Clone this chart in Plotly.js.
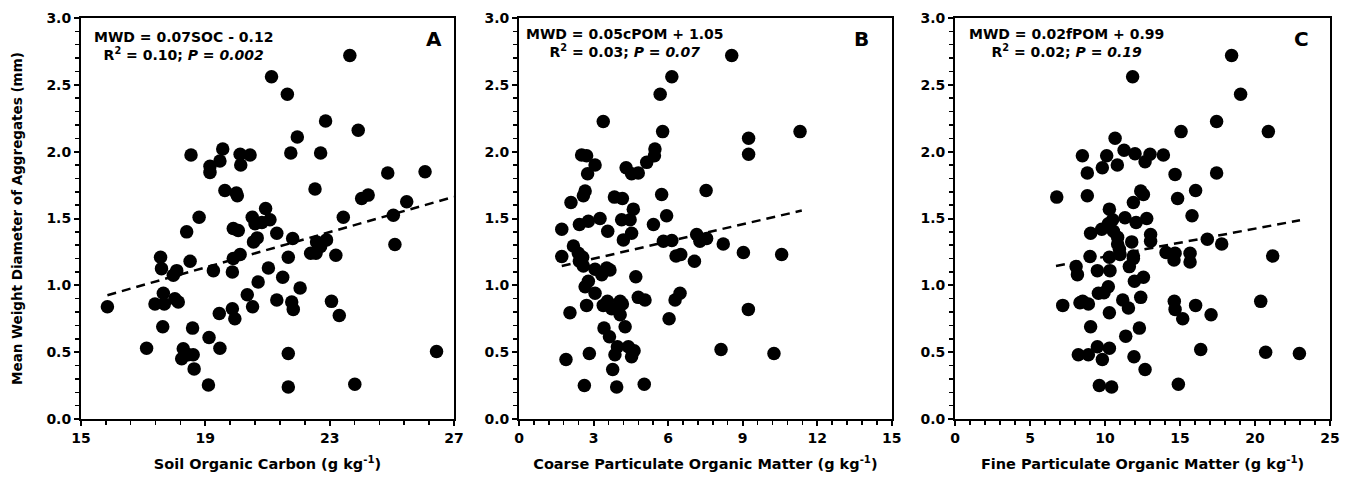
<!DOCTYPE html>
<html>
<head>
<meta charset="utf-8">
<script src="https://cdn.plot.ly/plotly-3.0.1.min.js"></script>
<style>html,body{margin:0;padding:0;background:#fff;}#chart{width:1350px;height:479px;}</style>
</head>
<body>
<div id="chart"></div>
<script>
// Panel A: Soil Organic Carbon vs MWD
const socA = [23.65,21.13,21.64,22.87,23.92,21.96,21.75,22.71,18.54,19.56,19.15,19.15,19.47,20.12,20.44,20.14,19.63,20.0,20.03,22.53,24.87,26.07,24.03,24.24,25.48,25.05,23.44,18.8,20.51,20.94,21.08,20.6,20.82,18.4,19.9,20.06,21.3,20.67,20.55,21.81,22.58,22.71,22.9,22.39,22.56,23.2,25.1,21.67,20.12,19.9,19.87,19.26,18.51,17.56,17.59,18.08,17.97,21.03,20.7,21.49,22.05,20.35,20.52,19.87,19.95,19.45,21.3,21.78,21.83,23.06,23.31,15.85,17.38,17.65,17.68,18.02,18.13,17.63,18.59,17.11,18.29,18.24,18.45,18.61,18.64,19.12,19.47,19.1,21.67,21.67,23.81,26.44];
const mwdA = [2.72,2.56,2.43,2.23,2.16,2.11,1.99,1.99,1.975,2.02,1.89,1.845,1.93,1.98,1.975,1.90,1.71,1.69,1.67,1.72,1.84,1.85,1.65,1.675,1.625,1.525,1.51,1.51,1.51,1.575,1.49,1.46,1.47,1.40,1.425,1.41,1.39,1.355,1.325,1.35,1.325,1.29,1.34,1.24,1.24,1.225,1.305,1.21,1.23,1.20,1.10,1.11,1.18,1.21,1.125,1.11,1.075,1.13,1.025,1.06,0.98,0.93,0.84,0.825,0.75,0.79,0.89,0.875,0.82,0.88,0.775,0.84,0.86,0.94,0.86,0.90,0.875,0.69,0.68,0.53,0.525,0.45,0.48,0.48,0.375,0.61,0.53,0.255,0.49,0.24,0.26,0.505];

// Panel B: Coarse POM vs MWD
const cpomB = [8.56,6.15,5.68,3.39,5.78,11.31,9.24,9.24,2.52,2.72,3.06,2.76,4.31,4.53,4.8,5.14,5.47,5.45,7.53,5.74,2.66,2.59,2.09,3.84,4.16,4.6,5.94,3.26,4.13,4.47,2.43,2.79,5.41,1.72,3.57,4.53,4.2,5.81,6.15,7.15,7.55,7.28,8.22,9.03,10.57,6.32,6.51,7.06,1.72,2.19,2.39,2.56,2.43,2.59,3.06,3.33,3.53,3.66,4.7,2.79,2.66,3.06,2.72,2.05,3.39,3.56,3.73,4.07,4.16,4.07,4.8,5.07,6.48,6.28,6.04,9.23,3.42,4.27,3.64,3.96,4.4,4.63,4.53,3.86,1.89,2.83,3.77,8.13,10.26,2.63,3.93,5.04];
const mwdB = [2.72,2.56,2.43,2.225,2.15,2.15,2.10,1.98,1.975,1.97,1.90,1.835,1.88,1.835,1.84,1.92,2.02,1.97,1.71,1.68,1.705,1.67,1.62,1.66,1.65,1.57,1.52,1.50,1.49,1.49,1.455,1.48,1.455,1.42,1.405,1.39,1.34,1.33,1.335,1.38,1.35,1.33,1.31,1.245,1.23,1.22,1.23,1.18,1.215,1.295,1.24,1.21,1.18,1.145,1.12,1.08,1.13,1.115,1.065,1.03,0.99,0.94,0.85,0.795,0.85,0.88,0.825,0.88,0.86,0.78,0.91,0.89,0.94,0.89,0.75,0.82,0.68,0.69,0.615,0.54,0.54,0.51,0.465,0.48,0.445,0.49,0.37,0.52,0.49,0.25,0.24,0.26];

// Panel C: Fine POM vs MWD
const fpomC = [18.44,11.84,19.04,17.44,15.07,20.89,10.67,11.27,12.0,13.0,13.89,8.49,10.11,12.67,10.82,9.82,8.82,14.67,17.44,6.78,8.82,12.38,12.56,16.04,14.84,11.89,10.29,15.8,12.78,11.33,12.07,10.51,9.04,9.78,10.22,10.56,10.84,10.84,10.96,11.78,13.04,13.04,16.82,17.78,9.0,10.29,11.0,11.89,11.89,14.07,14.67,14.6,15.67,15.67,21.18,8.07,8.16,9.49,10.33,11.62,11.96,12.56,10.22,9.93,9.56,7.18,8.33,8.51,8.89,11.18,11.56,12.38,10.29,14.62,14.67,15.18,16.04,17.07,20.38,9.04,12.29,11.38,8.22,8.89,9.49,10.29,9.82,11.93,12.67,16.38,20.71,22.96,9.62,10.44,14.89];
const mwdC = [2.72,2.56,2.43,2.225,2.15,2.15,2.10,2.01,1.985,1.98,1.975,1.97,1.97,1.925,1.90,1.88,1.84,1.83,1.84,1.66,1.67,1.705,1.68,1.71,1.65,1.62,1.57,1.52,1.50,1.505,1.47,1.49,1.39,1.42,1.46,1.405,1.36,1.31,1.27,1.325,1.38,1.33,1.345,1.31,1.215,1.21,1.23,1.22,1.20,1.245,1.24,1.19,1.24,1.175,1.22,1.14,1.08,1.11,1.11,1.14,1.03,1.06,0.99,0.945,0.94,0.85,0.87,0.88,0.86,0.89,0.83,0.91,0.795,0.88,0.82,0.75,0.85,0.78,0.88,0.69,0.68,0.62,0.48,0.48,0.54,0.53,0.445,0.465,0.37,0.52,0.50,0.49,0.25,0.24,0.26];

// Regression fits (as drawn) and their x extents
const fitSlope = [0.066, 0.043, 0.021];
const fitIntercept = [-0.12, 1.07, 1.004];
const fitXStart = [15.85, 1.72, 6.73];
const fitXEnd = [27, 11.38, 23.0];

// Text
const eqText = ["MWD = 0.07SOC - 0.12", "MWD = 0.05cPOM + 1.05", "MWD = 0.02fPOM + 0.99"];
const statText = ["R<sup>2</sup> = 0.10; <i>P</i> = <i>0.002</i>", "R<sup>2</sup> = 0.03; <i>P</i> = <i>0.07</i>", "R<sup>2</sup> = 0.02; <i>P</i> = <i>0.19</i>"];
const panelLetters = ["A", "B", "C"];
const xTitles = ["Soil Organic Carbon (g kg<sup>-1</sup>)", "Coarse Particulate Organic Matter (g kg<sup>-1</sup>)", "Fine Particulate Organic Matter (g kg<sup>-1</sup>)"];
const yTitle = "Mean Weight Diameter of Aggregates (mm)";
const xRanges = [[15, 27], [0, 15], [0, 25]];
const xDticks = [4, 3, 5];
const xMinorDticks = [0.8, 0.6, 1];
const yRange = [0, 3];
const yDtick = 0.5;

const FONT = "DejaVu Sans, Arial, sans-serif";
const xs = [socA, cpomB, fpomC];
const ys = [mwdA, mwdB, mwdC];
const suffix = ["", "2", "3"];
const domains = [[0, 0.2986], [0.3507, 0.6491], [0.6998, 1]];

const traces = [];
const annotations = [];
const layout = {
  width: 1350, height: 479,
  margin: {l: 81, r: 20, t: 18, b: 60},
  paper_bgcolor: "#fff", plot_bgcolor: "#fff",
  showlegend: false,
  font: {family: FONT, size: 14, color: "#000", weight: "bold"},
  annotations: annotations
};

for (let i = 0; i < 3; i++) {
  const s = suffix[i];
  traces.push({
    type: "scatter", mode: "markers",
    x: xs[i], y: ys[i],
    xaxis: "x" + s, yaxis: "y" + s,
    marker: {size: 13.5, color: "#000"},
    hoverinfo: "x+y"
  });
  const fx = [fitXStart[i], fitXEnd[i]];
  traces.push({
    type: "scatter", mode: "lines",
    x: fx, y: fx.map(v => fitSlope[i] * v + fitIntercept[i]),
    xaxis: "x" + s, yaxis: "y" + s,
    line: {color: "#000", width: 2.5, dash: "9px,6px"},
    hoverinfo: "skip"
  });
  const mk = () => ({
    showline: true, linecolor: "#000", linewidth: 2, mirror: true,
    showgrid: false, zeroline: false,
    ticks: "outside", ticklen: 5, tickwidth: 2, tickcolor: "#000",
    tickfont: {family: FONT, size: 14, color: "#000", weight: "bold"},
    fixedrange: true
  });
  layout["xaxis" + s] = Object.assign(mk(), {
    domain: domains[i], anchor: "y" + s,
    range: xRanges[i], dtick: xDticks[i], tick0: xRanges[i][0],
    minor: {dtick: xMinorDticks[i], tick0: xRanges[i][0], ticks: "outside", ticklen: 4, tickwidth: 1.5, tickcolor: "#000"},
    title: {text: xTitles[i], font: {family: FONT, size: 14.5, color: "#000", weight: "bold"}, standoff: 14}
  });
  const yax = Object.assign(mk(), {
    domain: [0, 1], anchor: "x" + s,
    range: yRange, dtick: yDtick, tick0: 0, tickformat: ".1f",
    minor: {dtick: 0.1, tick0: 0, ticks: "outside", ticklen: 4, tickwidth: 1.5, tickcolor: "#000"}
  });
  if (i === 0) {
    yax.title = {text: yTitle, font: {family: FONT, size: 13.5, color: "#000", weight: "bold"}, standoff: 21};
  }
  layout["yaxis" + s] = yax;

  annotations.push({
    xref: "x" + s + " domain", yref: "y" + s + " domain",
    x: [0.2745, 0.284, 0.298][i], y: [0.929, 0.937, 0.937][i],
    xanchor: "center", yanchor: "middle", align: "center",
    text: eqText[i] + "<br>" + statText[i],
    showarrow: false,
    font: {family: FONT, size: 14, color: "#000", weight: "bold"}
  });
  annotations.push({
    xref: "x" + s + " domain", yref: "y" + s + " domain",
    x: [0.946, 0.9195, 0.9245][i], y: 0.948,
    xanchor: "center", yanchor: "middle",
    text: panelLetters[i], showarrow: false,
    font: {family: FONT, size: 20, color: "#000", weight: "bold"}
  });
}

Plotly.newPlot("chart", traces, layout, {staticPlot: true, displayModeBar: false});
</script>
</body>
</html>
